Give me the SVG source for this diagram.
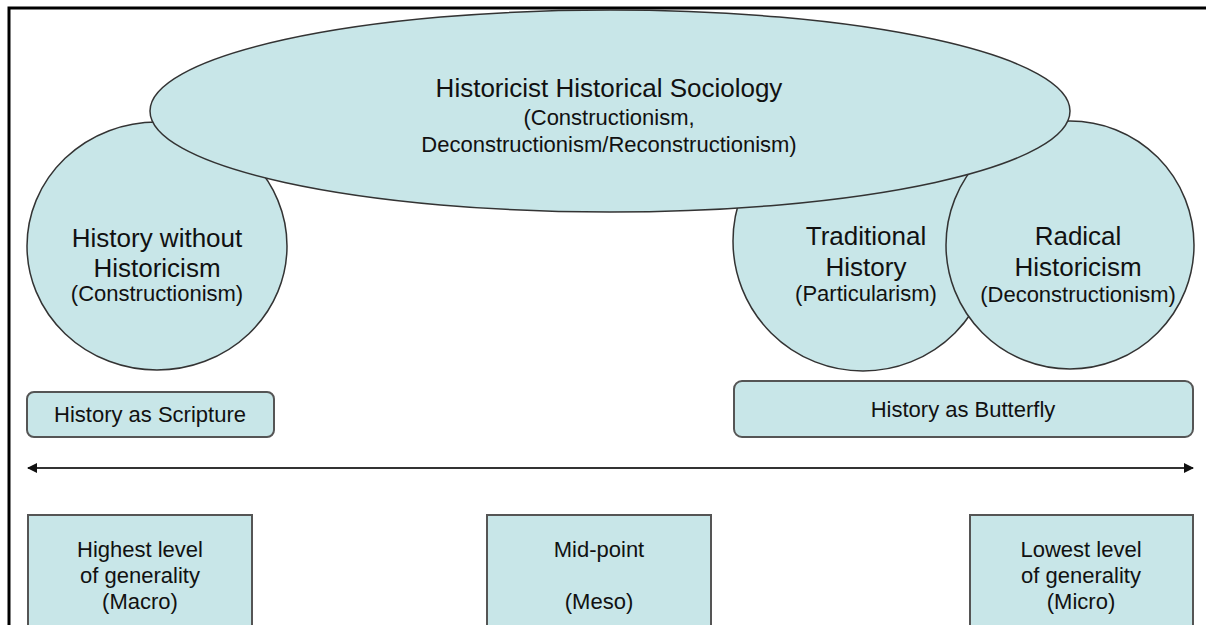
<svg xmlns="http://www.w3.org/2000/svg" width="1206" height="625" viewBox="0 0 1206 625">
<defs>
<style>
.shape{fill:#c8e6e8;stroke:#333;stroke-width:1.5}
.box{fill:#c8e6e8;stroke:#555;stroke-width:2}
text{font-family:"Liberation Sans",Arial,sans-serif;fill:#111;text-anchor:middle}
.t1{font-size:26px}
.t2{font-size:22px}
.t3{font-size:22px}
</style>
<marker id="ah" viewBox="0 0 10 10" refX="9" refY="5" markerWidth="10" markerHeight="10" markerUnits="userSpaceOnUse" orient="auto-start-reverse">
<path d="M0,0 L10,5 L0,10 z" fill="#111"/>
</marker>
</defs>
<rect width="1206" height="625" fill="#fff"/>
<path d="M9,625 L9,8 L1206,8" fill="none" stroke="#000" stroke-width="3"/>

<g id="node-without">
<ellipse class="shape" cx="157" cy="246" rx="130" ry="124"/>
<text class="t1" x="157" y="247">History without</text>
<text class="t1" x="157" y="277">Historicism</text>
<text class="t3" x="157" y="301">(Constructionism)</text>
</g>
<g id="node-traditional">
<circle class="shape" cx="863" cy="241" r="130"/>
<text class="t1" x="866" y="245">Traditional</text>
<text class="t1" x="866" y="276">History</text>
<text class="t3" x="866" y="301">(Particularism)</text>
</g>
<g id="node-radical">
<circle class="shape" cx="1070" cy="245" r="124"/>
<text class="t1" x="1078" y="245">Radical</text>
<text class="t1" x="1078" y="276">Historicism</text>
<text class="t3" x="1078" y="302">(Deconstructionism)</text>
</g>
<g id="node-historicist">
<ellipse class="shape" cx="610" cy="111" rx="460" ry="101"/>
<text class="t1" x="609" y="97">Historicist Historical Sociology</text>
<text class="t2" x="609" y="125">(Constructionism,</text>
<text class="t2" x="609" y="152">Deconstructionism/Reconstructionism)</text>
</g>
<g id="node-scripture">
<rect class="box" x="27" y="392" width="247" height="45" rx="7"/>
<text class="t3" x="150" y="422">History as Scripture</text>
</g>
<g id="node-butterfly">
<rect class="box" x="734" y="381" width="459" height="56" rx="8"/>
<text class="t3" x="963" y="417">History as Butterfly</text>
</g>
<g id="connectors">
<line x1="28" y1="468" x2="1193" y2="468" stroke="#333" stroke-width="2" marker-start="url(#ah)" marker-end="url(#ah)"/>
</g>
<g id="node-macro">
<rect class="box" x="28" y="515" width="224" height="120"/>
<text class="t3" x="140" y="557">Highest level</text>
<text class="t3" x="140" y="583">of generality</text>
<text class="t3" x="140" y="609">(Macro)</text>
</g>
<g id="node-meso">
<rect class="box" x="487" y="515" width="224" height="120"/>
<text class="t3" x="599" y="557">Mid-point</text>
<text class="t3" x="599" y="609">(Meso)</text>
</g>
<g id="node-micro">
<rect class="box" x="970" y="515" width="223" height="120"/>
<text class="t3" x="1081" y="557">Lowest level</text>
<text class="t3" x="1081" y="583">of generality</text>
<text class="t3" x="1081" y="609">(Micro)</text>
</g>
</svg>
